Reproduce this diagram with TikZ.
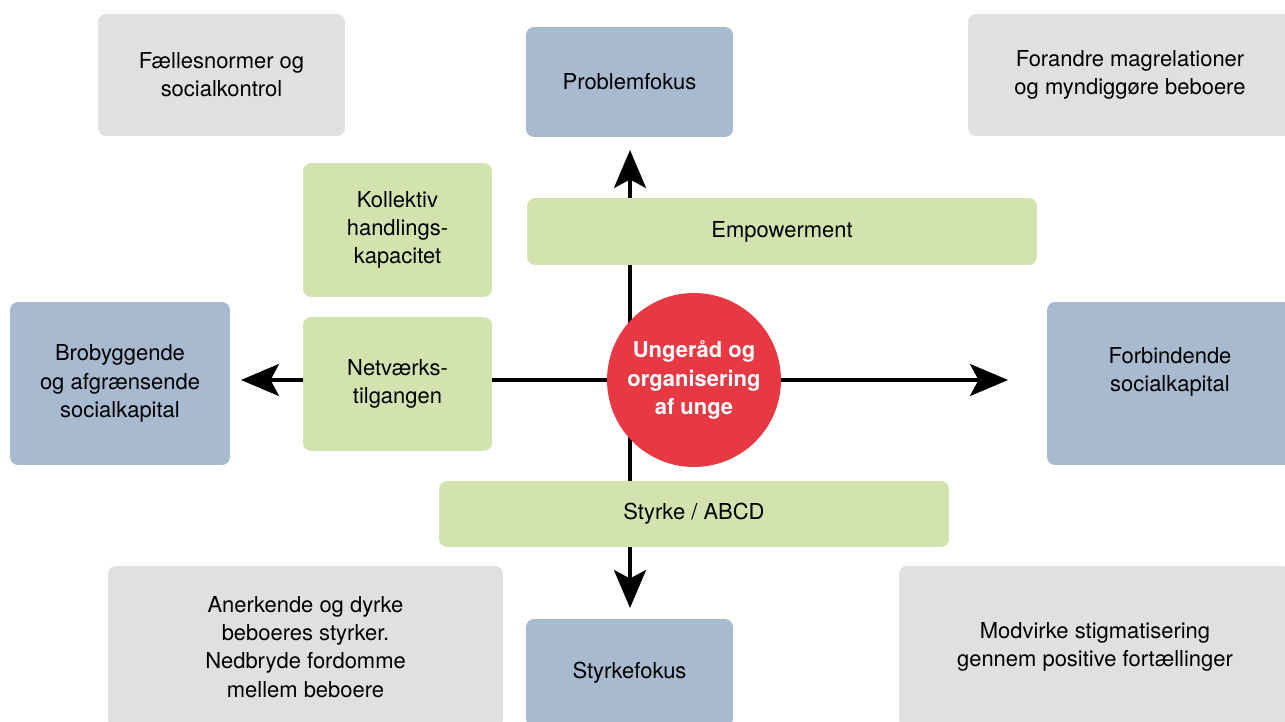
\documentclass[tikz,border=0pt]{standalone}
\usepackage{fontspec}
\setmainfont{TeX Gyre Heros}
\usetikzlibrary{arrows.meta}
\definecolor{boxgray}{RGB}{224,224,224}
\definecolor{boxblue}{RGB}{168,186,208}
\definecolor{boxgreen}{RGB}{211,227,175}
\definecolor{hubred}{RGB}{230,57,68}
\tikzset{
  font={\fontsize{12.5pt}{16}\selectfont}}

\begin{document}
\begin{tikzpicture}[x=0.02cm,y=-0.02cm]
\tikzset{
  card/.style={rounded corners=0.16cm, align=center, inner sep=0pt},
  graycard/.style={card, fill=boxgray},
  bluecard/.style={card, fill=boxblue},
  greencard/.style={card, fill=boxgreen},
  axis/.style={line width=2pt, -{Stealth[length=0.76cm,width=0.64cm,inset=0.17cm]}}}
\clip (0,0) rectangle (1285,722);
% axes
\coordinate (mid) at (630,380);
\coordinate (up) at (630,150);
\coordinate (down) at (630,608);
\coordinate (left) at (241,380);
\coordinate (right) at (1008,380);
\draw [axis] (mid) -- (up);
\draw [axis] (mid) -- (down);
\draw [axis] (mid) -- (left);
\draw [axis] (mid) -- (right);
% top row
\node [graycard, minimum width=4.94cm, minimum height=2.44cm] (normer) at (221.5,75) {F\ae llesnormer og\\socialkontrol};
\node [bluecard, minimum width=4.14cm, minimum height=2.2cm] (problem) at (629.5,82) {Problemfokus};
\node [graycard, minimum width=6.48cm, minimum height=2.44cm] (magt) at (1130,75) {Forandre magrelationer\\og myndigg\o re beboere};
% green approaches
\node [greencard, minimum width=3.78cm, minimum height=2.68cm] (kollektiv) at (397.5,230) {Kollektiv\\handlings-\\kapacitet};
\node [greencard, minimum width=10.2cm, minimum height=1.34cm] (empower) at (782,231.5) {Empowerment};
\node [greencard, minimum width=3.78cm, minimum height=2.68cm] (netvaerk) at (397.5,384) {Netv\ae rks-\\tilgangen};
\node [greencard, minimum width=10.2cm, minimum height=1.32cm] (styrke) at (694,514) {Styrke / ABCD};
% middle row
\node [bluecard, minimum width=4.4cm, minimum height=3.26cm] (bro) at (120,383.5) {Brobyggende\\og afgr\ae nsende\\socialkapital};
\node [bluecard, minimum width=4.92cm, minimum height=3.26cm] (forbind) at (1170,383.5) {Forbindende\\socialkapital\\~};
\node [circle, fill=hubred, minimum size=3.48cm, inner sep=0pt, align=center, text=white,
  font={\fontsize{12.5pt}{16}\selectfont\bfseries}] (unge) at (694,380) {Unger\aa d og\\organisering\\af unge};
% bottom row
\node [graycard, minimum width=7.9cm, minimum height=3.24cm] (anerkend) at (305.5,647) {Anerkende og dyrke\\beboeres styrker.\\Nedbryde fordomme\\mellem beboere};
\node [bluecard, minimum width=4.14cm, minimum height=2.16cm] (styrkefokus) at (629.5,673) {Styrkefokus};
\node [graycard, minimum width=7.84cm, minimum height=3.24cm] (stigma) at (1095,647) {Modvirke stigmatisering\\gennem positive fort\ae llinger};
\end{tikzpicture}
\end{document}
